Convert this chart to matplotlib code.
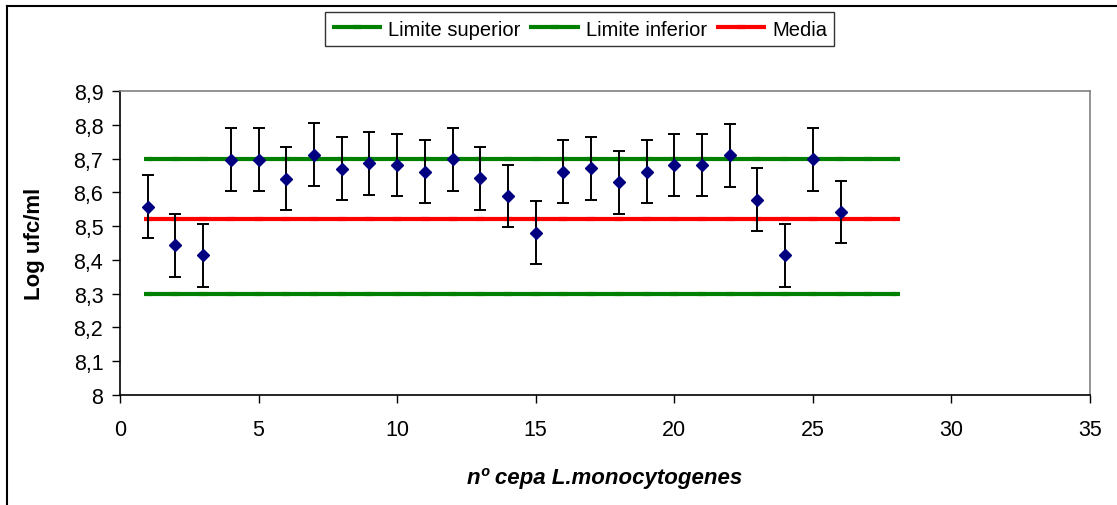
import matplotlib
matplotlib.use("Agg")
import matplotlib.pyplot as plt
from matplotlib.lines import Line2D

plt.rcParams['font.family'] = ['Liberation Sans', 'DejaVu Sans']

# Strain number and mean log count per strain
cepa = list(range(1, 27))
log_ufc = [8.557, 8.443, 8.414, 8.697, 8.697, 8.640, 8.712, 8.670, 8.686, 8.681,
           8.661, 8.698, 8.641, 8.589, 8.480, 8.661, 8.671, 8.630, 8.661, 8.681,
           8.681, 8.710, 8.578, 8.413, 8.698, 8.542]
error = [0.093] * 26

# Control limits and mean, drawn across strains 1..28
limit_x = list(range(1, 29))
limite_superior = 8.70
limite_inferior = 8.30
media = 8.52

xticks = [0, 5, 10, 15, 20, 25, 30, 35]
yticks = [8.0, 8.1, 8.2, 8.3, 8.4, 8.5, 8.6, 8.7, 8.8, 8.9]
ytick_labels = ['8', '8,1', '8,2', '8,3', '8,4', '8,5', '8,6', '8,7', '8,8', '8,9']

fig = plt.figure(figsize=(11.17, 5.06), dpi=100)
ax = fig.add_axes([120 / 1117, 1 - 396 / 506, 970 / 1117, 304 / 506])

green = '#008000'
red = '#ff0000'
ln_sup, = ax.plot(limit_x, [limite_superior] * len(limit_x), color=green, lw=3,
                  marker='_', ms=6, mew=3, solid_capstyle='butt', zorder=2)
ln_inf, = ax.plot(limit_x, [limite_inferior] * len(limit_x), color=green, lw=3,
                  marker='_', ms=6, mew=3, solid_capstyle='butt', zorder=2)
ln_med, = ax.plot(limit_x, [media] * len(limit_x), color=red, lw=3,
                  marker='_', ms=6, mew=3, solid_capstyle='butt', zorder=2)

ax.errorbar(cepa, log_ufc, yerr=error, fmt='D', color='#000080', ms=6.5,
            ecolor='black', elinewidth=1.4, capsize=4.5, capthick=1.4, zorder=3)

ax.set_xlim(0, 35)
ax.set_ylim(8.0, 8.9)
ax.set_xticks(xticks)
ax.set_yticks(yticks)
ax.set_yticklabels(ytick_labels)
ax.tick_params(axis='x', direction='out', length=6, width=1, pad=11, labelsize=15.5)
ax.tick_params(axis='y', direction='out', length=6, width=1, pad=6, labelsize=15.5)

for side in ('left', 'bottom'):
    ax.spines[side].set_color('black')
    ax.spines[side].set_linewidth(1.2)
for side in ('right', 'top'):
    ax.spines[side].set_color('#808080')
    ax.spines[side].set_linewidth(1.2)

ax.set_ylabel('Log ufc/ml', fontsize=16, fontweight='bold')
ax.yaxis.set_label_coords(-0.077, 0.5)
ax.set_xlabel('nº cepa L.monocytogenes', fontsize=16, fontweight='bold', style='italic')
ax.xaxis.set_label_coords(0.5, -0.237)

leg = fig.legend([ln_sup, ln_inf, ln_med],
                 ['Limite superior', 'Limite inferior', 'Media'],
                 loc='center', bbox_to_anchor=(579.5 / 1117, 1 - 30 / 506),
                 ncol=3, fontsize=14.5, frameon=True, fancybox=False,
                 handlelength=2.5, handletextpad=0.3, columnspacing=0.45,
                 borderpad=0.35, borderaxespad=0)
leg.get_frame().set_edgecolor('black')
leg.get_frame().set_linewidth(1.0)

# Chart-area outline (left and top edges)
fig.add_artist(Line2D([7 / 1117, 7 / 1117], [0, 1 - 6.5 / 506], color='black', lw=1.5,
                      transform=fig.transFigure))
fig.add_artist(Line2D([7 / 1117, 1], [1 - 6.5 / 506, 1 - 6.5 / 506], color='black', lw=1.5,
                      transform=fig.transFigure))

fig.savefig('out.png', dpi=100)
